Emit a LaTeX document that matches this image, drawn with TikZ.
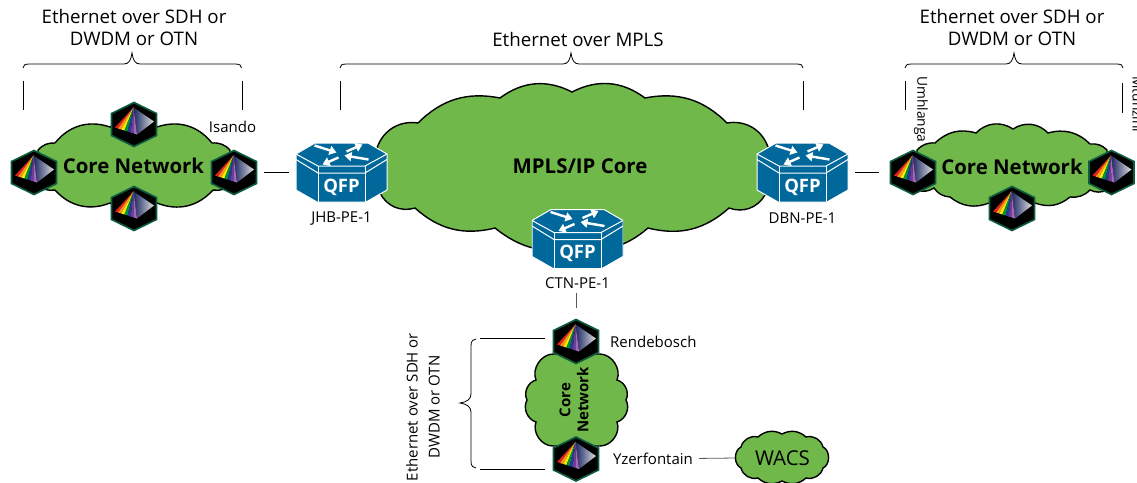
\documentclass[tikz,border=0pt]{standalone}
\usepackage{fontspec}
\setmainfont{Open Sans}
\usetikzlibrary{positioning,arrows.meta}

\definecolor{cloudgreen}{HTML}{70B84A}
\definecolor{routerblue}{HTML}{00689B}
\definecolor{prismedge}{HTML}{0B5E3F}
\definecolor{band0}{HTML}{E2231A}
\definecolor{band1}{HTML}{F7941D}
\definecolor{band2}{HTML}{FFE600}
\definecolor{band3}{HTML}{00953B}
\definecolor{band4}{HTML}{2A3A8F}
\definecolor{band5}{HTML}{6A3D9A}
\definecolor{band6}{HTML}{A566B5}

% router drawing, local pixels around the node centre
\newcommand{\routerbody}[1]{
    \begin{scope}[shift={(path picture bounding box.center)}, scale=#1, draw=white, line width=1pt, line join=round]
        \filldraw[fill=routerblue] (-45.5,-18.5) -- (-26.5,-29.5) -- (26.5,-29.5) -- (45.5,-18.5) -- (45.5,17.5)
            -- (24.5,29.5) -- (-24.5,29.5) -- (-45.5,17.5) -- cycle;
        \draw (-45.5,-18.5) -- (-23.5,-6.5) -- (23.5,-6.5) -- (45.5,-18.5);
        \draw (-45.5,-13) -- (-23.5,0.5) -- (23.5,0.5) -- (45.5,-13);
        \draw (-23.5,-6.5) -- (-23.5,29.5); \draw (23.5,-6.5) -- (23.5,29.5);
        \foreach \ax/\ay/\bx/\by in {-27/-27/-5/-20, 5/-21/21/-28, 27/-13/3/-17, -3/-15/-19/-8} {
            \draw[-{Triangle[length=7pt,width=9pt]}, line width=2.4pt] (\ax,\ay) -- (\bx,\by);
        }
    \end{scope}
}
% prism drawing, local pixels around the node centre
\newcommand{\prismbody}{
    \begin{scope}[shift={(path picture bounding box.center)}]
        \filldraw[fill=black, draw=prismedge, line width=1.6pt] (0,-22) -- (22.5,-11) -- (22.5,11) -- (0,22) -- (-22.5,11) -- (-22.5,-11) -- cycle;
        \shade[left color=band4!70!black, right color=gray!25] (-0.5,-17) -- (20,-3) -- (3,10) -- cycle;
        \foreach \i in {0,...,6} {
            \fill[band\i] (-0.5,-17) -- ({-19+\i*3.14},{3+\i}) -- ({-19+(\i+1)*3.14},{4+\i}) -- cycle;
        }
    \end{scope}
}

\tikzset{
    router/.style={rectangle, inner sep=0pt, minimum width=#1*96pt, minimum height=#1*64pt, path picture={\routerbody{#1}}},
    router/.default=1,
    prism/.style={rectangle, inner sep=0pt, minimum width=48pt, minimum height=48pt, path picture={\prismbody}},
    netcloud/.style={draw=black, fill=cloudgreen, line width=1.4pt, line join=miter},
    puff/.style={bend left=#1},
    puff/.default=28,
    lbl/.style={inner sep=0pt, font=\fontsize{15}{18}\selectfont},
    turnlbl/.style={inner sep=0pt, rotate=-90, anchor=north west, font=\fontsize{13.8}{17}\selectfont},
    spanlbl/.style={inner sep=0pt, align=center, font=\fontsize{18.7}{22}\selectfont},
    cloudlbl/.style={inner sep=0pt, align=center, font=\fontsize{20.4}{24}\selectfont\bfseries},
    link/.style={draw=black, line width=0.8pt},
    curly/.style={draw=black, line width=0.8pt}
}

\begin{document}
\begin{tikzpicture}[x=1pt, y=-1pt]
    \useasboundingbox (0,0) rectangle (1137,482);

    % MPLS cloud
    \draw[netcloud] (377,148) to[puff=40] (418,123) to[puff] (500,98) to[puff=32] (572,92) to[puff=32] (645,98) to[puff] (727,123)
        to[puff=40] (768,147) to[puff=50] (765,195) to[puff=40] (729,208) to[puff] (648,228) to[puff=25] (577,248)
        to[puff=25] (495,228) to[puff] (415,208) to[puff=40] (380,193) to[puff=50] cycle;

    % Left core cloud
    \draw[netcloud] (38,150) to[puff=25] (55,143) to[puff=35] (110,127) to[puff=35] (157,127) to[puff=35] (212,143) to[puff=25] (230,150)
        -- (230,185) to[puff=25] (213,190) to[puff=35] (157,203) to[puff=35] (110,203) to[puff=35] (55,190) to[puff=25] (38,185) -- cycle;

    % Right core cloud
    \draw[netcloud] (917,150) to[puff=25] (935,143) to[puff=30] (976,133) to[puff=40] (1013,129) to[puff=40] (1048,133) to[puff=30] (1090,144)
        to[puff=25] (1107,150) -- (1107,190) to[puff=25] (1090,190) to[puff=25] (1070,197) to[puff=30] (1035,203) to[puff=30] (989,203)
        to[puff=30] (950,197) to[puff=25] (934,188) to[puff=25] (917,190) -- cycle;

    % Lower core cloud
    \draw[netcloud] (553,446) to[puff=55] (536,422) to[puff=50] (527,400) to[puff=50] (536,380) to[puff=55] (553,354) -- (600,354)
        to[puff=55] (617,380) to[puff=50] (626,400) to[puff=50] (617,422) to[puff=55] (600,446) -- cycle;

    % WACS cloud
    \draw[netcloud] (741,447) to[puff=45] (758,437) to[puff=35] (782,434) to[puff=35] (806,437) to[puff=45] (823,447) to[puff=65] (823,468)
        to[puff=45] (806,478) to[puff=35] (782,481) to[puff=35] (758,478) to[puff=45] (741,468) to[puff=65] cycle;

    % Cloud texts
    \node[cloudlbl] (coreleft) at (133.5,166) {Core Network};
    \node[cloudlbl] (coreright) at (1012,167) {Core Network};
    \node[cloudlbl] (mpls) at (580,166) {MPLS/IP Core};
    \node[inner sep=0pt, align=center, rotate=90, font=\fontsize{15}{18}\selectfont\bfseries] (corelow) at (574,400) {Core\\Network};
    \node[inner sep=0pt, minimum width=92pt, font=\fontsize{20.5}{24}\selectfont] (wacs) at (782.5,458) {WACS};

    % Routers
    \node[router] (jhb) at (341.5,172.5) {};
    \node[router] (dbn) at (802.5,172.5) {};
    \node[router=0.95] (ctn) at (577.5,239) {};
    \foreach \r/\y/\txt/\ly in {jhb/187/JHB-PE-1/219, dbn/187/DBN-PE-1/218.5, ctn/253/CTN-PE-1/283} {
        \node[inner sep=0pt, text=white, font=\fontsize{18.5}{20}\selectfont\bfseries] (\r qfp) at (\r |- 0,\y) {QFP};
        \node[lbl] (\r lbl) at (\r |- 0,\ly) {\txt};
    }

    % Prisms
    \foreach \p/\x/\y in {nwleft/34/172.5, nwtop/134/124.5, isando/234/172.5, nwbottom/134/208.5,
                          umhlanga/913/172.5, mtunzini/1111.5/172.5, nwright/1012/208.5,
                          rendebosch/576/341.5, yzerfontain/576/459} {
        \node[prism] (\p) at (\x,\y) {};
    }

    % Site labels
    \node[lbl] (isandolbl) at (232.5,127) {Isando};
    \node[turnlbl] (umhlangalbl) at (928,76) {Umhlanga};
    \node[turnlbl] (mtunzinilbl) at (1143,76) {Mtunzini};
    \node[lbl, anchor=west] (rendeboschlbl) at (610,342) {Rendebosch};
    \node[lbl, anchor=west] (yzerlbl) at (613,458.5) {Yzerfontain};

    % Span texts
    \node[spanlbl] (spanleft) at (134,27) {Ethernet over SDH or\\DWDM or OTN};
    \node[spanlbl] (spanright) at (1012,27) {Ethernet over SDH or\\DWDM or OTN};
    \node[spanlbl] (spanmid) at (578,39.5) {Ethernet over MPLS};
    \node[spanlbl, rotate=90, font=\fontsize{15}{22}\selectfont] (spanlow) at (423,407) {Ethernet over SDH or\\DWDM or OTN};

    % Braces
    \foreach \a/\m/\b in {23/132/241.5, 340/571/803, 905/1014/1123} {
        \draw[curly] (\a,68) .. controls (\a,65) and ({\a+2},64) .. ({\a+7},64) -- ({\m-8},64)
            .. controls ({\m-3},64) and ({\m-1},60) .. (\m,53) .. controls ({\m+1},60) and ({\m+3},64) .. ({\m+8},64)
            -- ({\b-7},64) .. controls ({\b-2},64) and (\b,65) .. (\b,68);
    }
    \draw[curly] (476,339) .. controls (473,339) and (471,341) .. (471,346) -- (471,394)
        .. controls (471,399) and (467,402) .. (460,403) .. controls (467,404) and (471,407) .. (471,412)
        -- (471,461) .. controls (471,466) and (473,468) .. (476,468);

    % Ticks under the braces
    \foreach \i/\x/\ya/\yb in {1/23.5/81/110, 2/242/81/110, 3/340/81/110, 4/803/81/110, 5/905.5/81/110, 6/1122.5/83/113} {
        \coordinate (tick\i a) at (\x,\ya);
        \coordinate (tick\i b) at (\x,\yb);
        \draw[link] (tick\i a) -- (tick\i b);
    }
    \foreach \i/\y in {1/338, 2/469} {
        \coordinate (side\i a) at (480,\y);
        \coordinate (side\i b) at (545,\y);
        \draw[link] (side\i a) -- (side\i b);
    }

    % Links
    \draw[link, shorten <=6pt, shorten >=4.5pt] (isando.east) -- (jhb.west);
    \draw[link, shorten <=4.5pt, shorten >=10pt] (dbn.east) -- (umhlanga.west);
    \draw[link, draw=black!65, shorten <=4pt, shorten >=9pt] (ctnlbl.south -| rendebosch) -- (rendebosch.north);
    \draw[link, draw=black!65, shorten <=6pt, shorten >=1.5pt] (yzerlbl.east) -- (wacs.west);
\end{tikzpicture}
\end{document}
